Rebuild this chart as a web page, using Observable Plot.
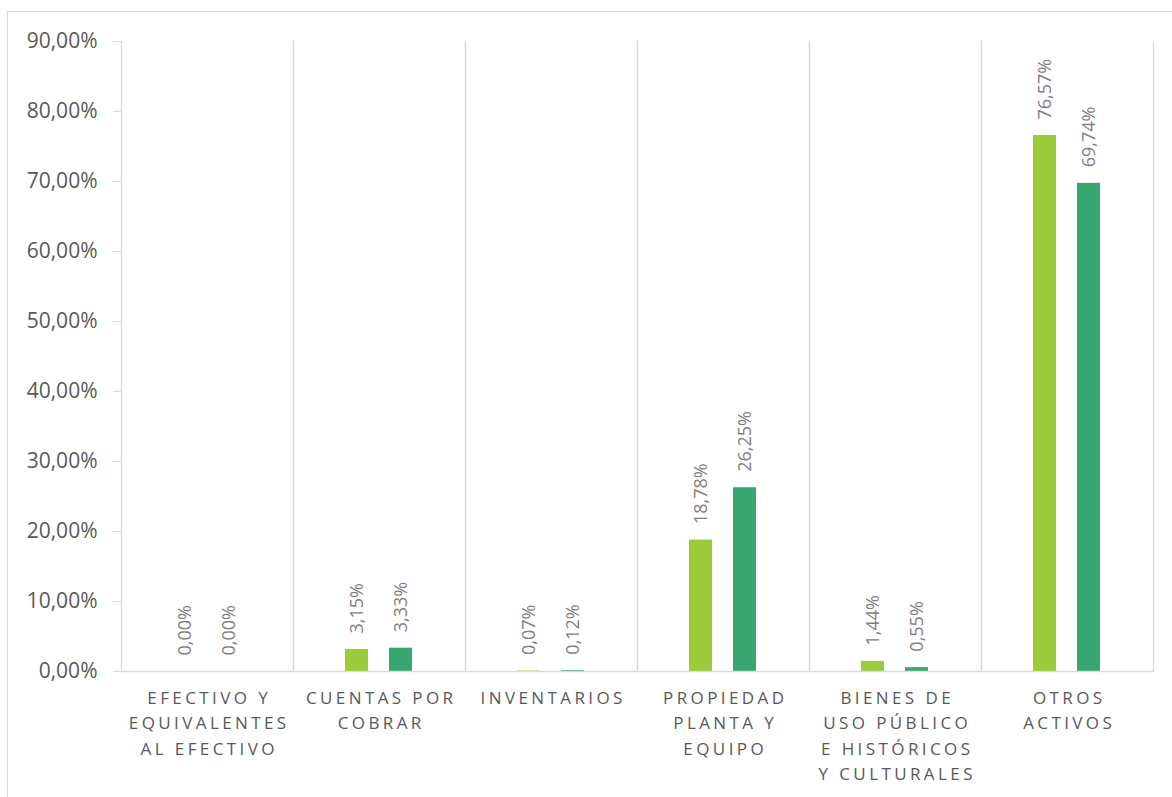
<!DOCTYPE html>
<html>
<head>
<meta charset="utf-8">
<script src="https://cdn.jsdelivr.net/npm/d3@7"></script>
<script src="https://cdn.jsdelivr.net/npm/@observablehq/plot@0.6"></script>
<style>
  html, body { margin: 0; padding: 0; background: #fff; overflow: hidden; }
  #wrap { position: relative; width: 1172px; height: 797px; }
  #frame { position: absolute; left: 7px; top: 11px; width: 1300px; height: 900px;
           border: 1px solid #d9d9d9; pointer-events: none; z-index: 2; }
  #chart svg { position: absolute; left: 0; top: 0; }
  g[aria-label="fx-axis tick label"] { letter-spacing: 3.4px; }
</style>
</head>
<body>
<div id="wrap"><div id="chart"></div><div id="frame"></div></div>
<script>
const categories = [
  "Efectivo y equivalentes al efectivo",
  "Cuentas por cobrar",
  "Inventarios",
  "Propiedad planta y equipo",
  "Bienes de uso público e históricos y culturales",
  "Otros activos"
];
const tickLabels = [
  "EFECTIVO Y\nEQUIVALENTES\nAL EFECTIVO",
  "CUENTAS POR\nCOBRAR",
  "INVENTARIOS",
  "PROPIEDAD\nPLANTA Y\nEQUIPO",
  "BIENES DE\nUSO PÚBLICO\nE HISTÓRICOS\nY CULTURALES",
  "OTROS\nACTIVOS"
];
const series = ["Periodo 1", "Periodo 2"];
const seriesColors = ["#9bca3a", "#38a66e"];
const valuesSeries1 = [0.0000, 0.0315, 0.0007, 0.1878, 0.0144, 0.7657];
const valuesSeries2 = [0.0000, 0.0333, 0.0012, 0.2625, 0.0055, 0.6974];
const yTicks = [0, 0.1, 0.2, 0.3, 0.4, 0.5, 0.6, 0.7, 0.8, 0.9];

const data = [];
categories.forEach((c, i) => {
  data.push({cat: c, serie: series[0], value: valuesSeries1[i]});
  data.push({cat: c, serie: series[1], value: valuesSeries2[i]});
});

const pct = d => (d * 100).toFixed(2).replace(".", ",") + "%";
const labelOf = new Map(categories.map((c, i) => [c, tickLabels[i]]));
const gridColor = "#d9d9d9";

const chart = Plot.plot({
  width: 1172,
  height: 797,
  marginLeft: 118,
  marginRight: 17,
  marginTop: 41,
  marginBottom: 126,
  style: {fontFamily: "'Open Sans', sans-serif", background: "transparent", color: "#595959"},
  fx: {domain: categories, padding: 0},
  x: {domain: series, paddingInner: 0.4667, paddingOuter: 1.15, axis: null},
  y: {domain: [0, 0.9]},
  color: {domain: series, range: seriesColors},
  marks: [
    Plot.frame({anchor: "left", stroke: gridColor, strokeWidth: 1.3, strokeOpacity: 1}),
    Plot.frame({anchor: "right", stroke: gridColor, strokeWidth: 1.3, strokeOpacity: 1}),
    Plot.axisY({
      ticks: yTicks, tickFormat: pct, tickSize: 8, tickPadding: 16, label: null,
      fontSize: 21, stroke: gridColor, strokeOpacity: 1, fill: "#595959"
    }),
    Plot.axisFx({
      anchor: "bottom", tickSize: 0, tickPadding: 14, label: null, dx: 1.7,
      tickFormat: d => labelOf.get(d), fontSize: 17, lineHeight: 1.5, fill: "#595959"
    }),
    Plot.barY(data, {fx: "cat", x: "serie", y: "value", fill: "serie"}),
    Plot.ruleY([0], {stroke: gridColor, strokeWidth: 1.3}),
    Plot.text(data, {
      fx: "cat", x: "serie", y: "value", text: d => pct(d.value),
      rotate: -90, textAnchor: "start", lineAnchor: "middle", dy: -16,
      fontSize: 18, fill: "#7f7f7f"
    })
  ]
});
document.getElementById("chart").appendChild(chart);
</script>
</body>
</html>
